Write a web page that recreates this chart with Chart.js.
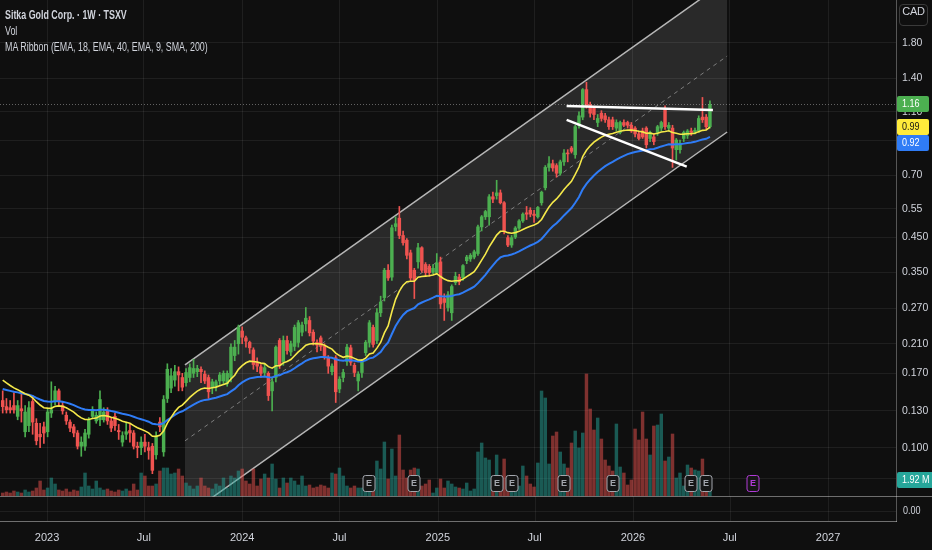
<!DOCTYPE html>
<html>
<head>
<meta charset="utf-8">
<script src="https://cdn.jsdelivr.net/npm/chart.js@4.4.1/dist/chart.umd.min.js"></script>
<style>
  html, body { margin: 0; padding: 0; background: #0f0f0f; }
  #wrap { position: relative; width: 932px; height: 550px; overflow: hidden; }
  #legend { position: absolute; left: 5px; top: 7px; color: #d1d4dc; white-space: nowrap;
    font: 12.5px 'Liberation Sans', Arial, sans-serif; line-height: 16px;
    transform: scaleX(0.71); transform-origin: 0 0; }
  #legend .t { font-weight: bold; }
  #cur { position: absolute; left: 899px; top: 4px; width: 29px; height: 22px; box-sizing: border-box;
    border: 1px solid #3a3a3a; border-radius: 4px; color: #d1d4dc; text-align: center; line-height: 20px;
    font: 11px 'Liberation Sans', Arial, sans-serif; letter-spacing: -0.3px; }
</style>
</head>
<body>
<div id="wrap">
  <canvas id="myChart"></canvas>
  <div id="legend">
    <div class="t">Sitka Gold Corp. · 1W · TSXV</div>
    <div>Vol</div>
    <div>MA Ribbon (EMA, 18, EMA, 40, EMA, 9, SMA, 200)</div>
  </div>
  <div id="cur">CAD</div>
</div>
<script>
// weekly bars, index 0 = week of 2022-10-10
const firstWeek = '2022-10-10';
const tickDates = ['2023-01-01', '2023-07-01', '2024-01-01', '2024-07-01', '2025-01-01',
                   '2025-07-01', '2026-01-01', '2026-07-01', '2027-01-01'];
const tickLabels = ['2023', 'Jul', '2024', 'Jul', '2025', 'Jul', '2026', 'Jul', '2027'];
const priceTicks = [0.08, 0.1, 0.13, 0.17, 0.21, 0.27, 0.35, 0.45, 0.55, 0.7, 0.9, 1.1, 1.4, 1.8];
const priceTickLabels = ['0.080', '0.100', '0.130', '0.170', '0.210', '0.270', '0.350', '0.450',
                         '0.55', '0.70', '0.90', '1.10', '1.40', '1.80'];

const open = [
  .140, .134, .133, .135, .125, .132, .112, .117, .139, .119, .110, .116, .112, .128, .139, .150, .135, .126, .120, .116,
  .111, .101, .101, .110, .125, .121, .122, .122, .130, .121, .125, .113, .104, .110, .113, .111, .101, .100, .104, .100,
  .101, .095, .120, .097, .142, .153, .162, .172, .165, .159, .165, .170, .172, .175, .169, .165, .154, .155, .161, .161,
  .158, .165, .193, .210, .230, .219, .212, .201, .184, .178, .171, .170, .150, .165, .215, .185, .215, .198, .206, .212,
  .228, .242, .248, .228, .212, .219, .206, .190, .172, .190, .152, .165, .185, .204, .180, .161, .171, .197, .212, .236,
  .215, .262, .292, .355, .338, .485, .515, .455, .440, .402, .355, .377, .417, .370, .365, .350, .349, .377, .290, .272,
  .262, .325, .338, .336, .380, .385, .390, .400, .484, .520, .520, .600, .605, .617, .575, .448, .425, .450, .480, .505,
  .535, .545, .530, .520, .575, .640, .740, .760, .750, .710, .770, .820, .850, .810, 1.00, 1.06, 1.29, 1.16, 1.13, 1.02,
  1.09, 1.07, 1.04, 1.04, .980, .950, 1.02, 1.02, 1.00, .980, .940, .960, .980, .910, .920, .950, .980, 1.13, .980, .980,
  .840, .840, .910, .930, .960, .950, .960, 1.06, 1.06, .990
];
const high = [
  .150, .142, .140, .148, .140, .148, .135, .139, .145, .123, .119, .120, .132, .160, .155, .152, .139, .129, .122, .118,
  .113, .108, .114, .124, .134, .129, .150, .133, .133, .124, .128, .118, .112, .120, .118, .113, .104, .108, .110, .104,
  .103, .112, .124, .145, .182, .176, .180, .178, .170, .176, .182, .188, .180, .178, .173, .168, .163, .162, .171, .173,
  .173, .210, .215, .240, .237, .222, .214, .204, .190, .181, .182, .172, .165, .207, .218, .222, .222, .214, .240, .248,
  .245, .272, .255, .232, .216, .222, .210, .193, .182, .193, .166, .175, .209, .208, .183, .172, .188, .215, .248, .240,
  .270, .295, .360, .370, .490, .520, .560, .470, .445, .410, .360, .430, .420, .375, .370, .370, .400, .390, .300, .305,
  .320, .350, .345, .370, .395, .400, .410, .490, .525, .545, .610, .620, .675, .630, .580, .455, .455, .485, .510, .535,
  .560, .555, .545, .560, .625, .750, .800, .780, .760, .780, .840, .840, .860, 1.00, 1.10, 1.30, 1.36, 1.18, 1.14, 1.08,
  1.11, 1.09, 1.06, 1.06, 1.04, 1.03, 1.04, 1.03, 1.02, .990, .960, .980, .990, .960, .940, 1.00, 1.03, 1.15, 1.02, 1.00,
  .910, .900, .960, .970, .980, .980, 1.07, 1.22, 1.08, 1.19
];
const low = [
  .128, .128, .128, .128, .122, .120, .108, .112, .110, .102, .100, .103, .108, .124, .136, .135, .127, .118, .112, .108,
  .099, .094, .098, .107, .123, .119, .117, .120, .118, .112, .113, .106, .101, .106, .104, .099, .093, .095, .097, .092,
  .083, .092, .112, .094, .138, .148, .155, .150, .150, .155, .160, .165, .166, .159, .158, .142, .147, .150, .157, .158,
  .155, .160, .186, .195, .210, .205, .196, .175, .172, .165, .166, .140, .130, .160, .176, .180, .195, .193, .200, .205,
  .222, .230, .222, .208, .198, .200, .188, .170, .168, .138, .148, .160, .180, .180, .166, .150, .165, .193, .205, .205,
  .210, .255, .285, .330, .330, .470, .445, .425, .385, .330, .290, .360, .350, .340, .340, .345, .345, .270, .248, .265,
  .248, .320, .320, .330, .372, .378, .385, .395, .470, .510, .490, .575, .590, .570, .460, .420, .418, .445, .475, .500,
  .510, .520, .500, .515, .565, .630, .720, .720, .690, .700, .750, .770, .820, .790, .980, 1.04, 1.13, 1.06, 1.04, .990,
  1.03, 1.02, .970, .970, .960, .940, .990, .980, .950, .920, .900, .910, .850, .890, .870, .930, .960, .970, .960, .740,
  .780, .820, .890, .910, .930, .940, .950, 1.02, .970, .980
];
const close = [
  .134, .131, .131, .131, .135, .130, .129, .133, .120, .105, .108, .111, .129, .131, .150, .139, .130, .121, .115, .111,
  .101, .104, .111, .122, .131, .126, .141, .129, .121, .115, .117, .112, .109, .112, .111, .101, .100, .104, .101, .098,
  .085, .108, .116, .141, .175, .167, .172, .168, .154, .171, .177, .176, .176, .172, .161, .149, .160, .160, .168, .170,
  .170, .205, .205, .236, .220, .214, .204, .181, .179, .170, .177, .145, .160, .205, .180, .215, .200, .210, .236, .244,
  .240, .252, .227, .214, .208, .206, .193, .179, .179, .149, .163, .171, .205, .184, .171, .169, .185, .212, .244, .209,
  .262, .283, .355, .336, .481, .495, .455, .432, .395, .336, .330, .417, .355, .349, .349, .360, .374, .279, .282, .298,
  .316, .340, .327, .367, .390, .395, .405, .484, .520, .540, .600, .590, .617, .575, .470, .425, .448, .480, .505, .530,
  .530, .530, .525, .556, .620, .740, .760, .737, .710, .770, .820, .815, .830, .990, 1.07, 1.29, 1.15, 1.09, 1.08, 1.05,
  1.05, 1.04, .990, .990, 1.02, 1.02, 1.00, 1.00, .960, .940, .910, .920, .870, .950, .890, .990, 1.02, .990, 1.00, .850,
  .900, .880, .950, .960, .950, .965, 1.05, 1.04, .990, 1.16
];
// volume in millions of shares
const volume = [
  .36, .48, .36, .60, .48, .36, .72, .48, .60, .96, 1.80, .72, .96, 2.16, 1.44, .72, .60, .84, .48, .72,
  .60, 1.08, 2.76, 1.20, .84, 1.80, .96, .72, .84, .60, .48, .72, .60, .84, .60, 1.44, .72, 2.76, 2.40, 1.20,
  1.20, 1.44, 3.00, 3.36, 3.36, 2.64, 2.76, 3.24, 2.40, 1.56, 1.20, .84, 1.20, 2.16, 1.20, .96, .84, 1.44, 1.20, 2.16,
  .96, 2.40, 2.16, 3.00, 3.24, 1.80, 1.44, 3.24, 1.20, 2.04, 2.64, 2.16, 3.84, 2.04, .96, 2.16, 1.56, 2.16, 1.80, 1.32,
  2.40, 1.20, 1.32, .96, 1.08, 1.32, 1.20, .96, 2.76, 2.64, 3.36, 2.40, 1.20, .96, 1.20, .96, .96, .96, 1.44, 1.44,
  4.20, 3.24, 6.48, 2.04, 5.64, 2.40, 7.32, 3.12, 2.16, 3.12, 3.36, 3.24, 1.20, 1.44, 1.92, .36, .96, 2.04, .96, 1.80,
  1.44, 1.08, .96, .84, 1.56, .60, .84, 5.28, 6.36, 4.56, 4.32, 2.16, 4.92, 2.16, 4.44, 2.16, .96, 1.80, 1.20, 3.60,
  2.40, 1.44, 1.08, 3.96, 12.60, 11.76, 3.84, 7.20, 7.68, 5.28, 3.84, 3.36, 6.36, 7.80, 5.76, 7.56, 14.64, 10.44, 7.92, 9.36,
  6.84, 4.32, 3.60, 3.00, 8.64, 3.48, 2.76, 1.32, 1.92, 8.04, 6.72, 10.08, 6.84, 4.92, 8.40, 8.52, 9.84, 4.20, 4.68, 7.44,
  2.16, 2.76, 1.20, 3.72, 3.36, 3.12, 3.00, 4.44, 1.92, 1.92
];

// MA ribbon values at the first visible bar
const ema18Start = 0.162;
const ema40Start = 0.152;

// drawings (week index, price)
const channelUpper = [{ x: 48.7, y: 0.1805 }, { x: 193.6, y: 2.82 }];
const channelLower = [{ x: 48.7, y: 0.061 }, { x: 193.6, y: 0.953 }];
const resistance = [{ x: 150.7, y: 1.148 }, { x: 189.8, y: 1.115 }];
const support = [{ x: 150.7, y: 1.039 }, { x: 182.8, y: 0.744 }];
const earningsWeeks = [98, 110, 132, 136, 150, 163, 184, 188];
const nextEarningsWeek = 200.5;

const FONT = "'Liberation Sans', Arial, sans-serif";
const BG = '#0f0f0f';
const UP = '#4caf50', DOWN = '#ef5350';

function weekPos(d) {
    return (Date.parse(d) - Date.parse(firstWeek)) / (7 * 864e5);
}

function ema(values, n, start) {
    const k = 2 / (n + 1);
    const out = [];
    let e = start;
    values.forEach((v, i) => {
        e = i === 0 ? start : v * k + e * (1 - k);
        out.push({ x: i, y: e });
    });
    return out;
}

const ema18 = ema(close, 18, ema18Start);
const ema40 = ema(close, 40, ema40Start);
const channelMid = channelUpper.map((p, i) => ({ x: p.x, y: Math.sqrt(p.y * channelLower[i].y) }));

const isUp = close.map((c, i) => c >= open[i]);
const candleColors = isUp.map(u => u ? UP : DOWN);
const volColors = isUp.map(u => u ? 'rgba(38,166,154,0.5)' : 'rgba(239,83,80,0.5)');

function roundBox(ctx, x, y, w, h, r) {
    ctx.beginPath();
    ctx.moveTo(x + r, y);
    ctx.arcTo(x + w, y, x + w, y + h, r);
    ctx.arcTo(x + w, y + h, x, y + h, r);
    ctx.arcTo(x, y + h, x, y, r);
    ctx.arcTo(x, y, x + w, y, r);
    ctx.closePath();
}

// narrow text like the terminal's axis font
function narrowText(ctx, text, x, y) {
    ctx.save();
    ctx.translate(x, y);
    ctx.scale(0.82, 1);
    ctx.fillText(text, 0, 0);
    ctx.restore();
}

const overlay = {
    id: 'overlay',
    afterDatasetsDraw(chart) {
        const { ctx, chartArea: a, scales } = chart;
        const x = scales.x, y = scales.y, v = scales.v;
        const paneTop = Math.round(v.getPixelForValue(0)) + 0.5;
        ctx.save();

        // last price dotted line
        const py = Math.round(y.getPixelForValue(close[close.length - 1])) + 0.5;
        ctx.setLineDash([1, 2]);
        ctx.strokeStyle = 'rgba(200,200,200,0.45)';
        ctx.lineWidth = 1;
        ctx.beginPath(); ctx.moveTo(a.left, py); ctx.lineTo(a.right, py); ctx.stroke();
        ctx.setLineDash([]);

        // lower empty pane
        ctx.fillStyle = BG;
        ctx.fillRect(a.left, paneTop, a.right - a.left, a.bottom - paneTop);
        ctx.strokeStyle = 'rgba(255,255,255,0.07)';
        tickDates.forEach(d => {
            const px = Math.round(x.getPixelForValue(weekPos(d))) + 0.5;
            ctx.beginPath(); ctx.moveTo(px, paneTop); ctx.lineTo(px, a.bottom); ctx.stroke();
        });
        ctx.beginPath(); ctx.moveTo(a.left, paneTop + 15); ctx.lineTo(a.right, paneTop + 15); ctx.stroke();
        ctx.strokeStyle = 'rgba(255,255,255,0.4)';
        ctx.beginPath(); ctx.moveTo(a.left, paneTop); ctx.lineTo(932, paneTop); ctx.stroke();

        // earnings markers
        ctx.font = 'bold 9px ' + FONT;
        ctx.textAlign = 'center';
        ctx.textBaseline = 'middle';
        const drawE = (w, color) => {
            const cx = Math.round(x.getPixelForValue(w));
            roundBox(ctx, cx - 6, paneTop - 21, 12, 16, 2.5);
            ctx.fillStyle = '#161616';
            ctx.fill();
            ctx.strokeStyle = color;
            ctx.lineWidth = 1;
            ctx.stroke();
            ctx.fillStyle = color;
            ctx.fillText('E', cx, paneTop - 12.5);
        };
        earningsWeeks.forEach(w => drawE(w, '#a3a6ad'));
        drawE(nextEarningsWeek, '#b03ad6');
        ctx.restore();
    },
    afterDraw(chart) {
        const { ctx, chartArea: a, scales } = chart;
        const y = scales.y, v = scales.v;
        const paneTop = v.getPixelForValue(0);
        const last = close.length - 1;
        ctx.save();
        ctx.font = '11px ' + FONT;
        ctx.textBaseline = 'middle';
        ctx.textAlign = 'left';
        ctx.fillStyle = '#d1d4dc';
        narrowText(ctx, '0.00', a.right + 7, paneTop + 15);

        const tags = [
            { y: y.getPixelForValue(close[last]), text: close[last].toFixed(2), bg: UP, fg: '#fff' },
            { y: y.getPixelForValue(ema18[last].y), text: ema18[last].y.toFixed(2), bg: '#ffeb3b', fg: '#131313' },
            { y: y.getPixelForValue(ema40[last].y), text: ema40[last].y.toFixed(2), bg: '#2f7cf6', fg: '#fff' },
            { y: v.getPixelForValue(volume[last]), text: volume[last].toFixed(2) + ' M', bg: '#26a69a', fg: '#fff' }
        ].sort((p, q) => p.y - q.y);
        let prev = -100;
        tags.forEach(t => {
            if (t.y < prev + 16) t.y = prev + 16;
            prev = t.y;
            const w = ctx.measureText(t.text).width * 0.82 + 9;
            roundBox(ctx, a.right + 1, Math.round(t.y) - 8, Math.max(w, 32), 16, 2);
            ctx.fillStyle = t.bg;
            ctx.fill();
            ctx.fillStyle = t.fg;
            narrowText(ctx, t.text, a.right + 6, Math.round(t.y));
        });
        ctx.restore();
    }
};

const ctx = document.getElementById('myChart').getContext('2d');
const lineBase = { type: 'line', pointRadius: 0, yAxisID: 'y', tension: 0 };

window.myChart = new Chart(ctx, {
    type: 'bar',
    data: {
        datasets: [
            { ...lineBase, data: channelUpper, borderColor: 'rgba(210,210,210,0.85)', borderWidth: 1.5,
              fill: '+1', backgroundColor: 'rgba(255,255,255,0.11)', order: 20 },
            { ...lineBase, data: channelLower, borderColor: 'rgba(210,210,210,0.85)', borderWidth: 1.5,
              fill: false, order: 19 },
            { ...lineBase, data: channelMid, borderColor: 'rgba(210,210,210,0.5)', borderWidth: 1,
              borderDash: [4, 4], fill: false, order: 18 },
            { type: 'bar', yAxisID: 'v', data: volume.map((val, i) => ({ x: i, y: val })),
              backgroundColor: volColors, barThickness: 2.8, grouped: false, order: 15 },
            { type: 'bar', yAxisID: 'y', data: low.map((l, i) => ({ x: i, y: [l, high[i]] })),
              backgroundColor: candleColors, barThickness: 1, grouped: false, order: 6 },
            { type: 'bar', yAxisID: 'y', data: open.map((o, i) => ({ x: i, y: [o, close[i]] })),
              backgroundColor: candleColors, barThickness: 2.8, minBarLength: 1, grouped: false, order: 5 },
            { ...lineBase, data: ema40, borderColor: '#2f7cf6', borderWidth: 2, fill: false, order: 4 },
            { ...lineBase, data: ema18, borderColor: '#f5e94a', borderWidth: 1.6, fill: false, order: 3 },
            { ...lineBase, data: resistance, borderColor: '#ffffff', borderWidth: 2.5, fill: false, order: 1 },
            { ...lineBase, data: support, borderColor: '#ffffff', borderWidth: 2.5, fill: false, order: 1 }
        ]
    },
    options: {
        responsive: true,
        maintainAspectRatio: false,
        animation: false,
        events: [],
        layout: { padding: 0 },
        plugins: { legend: { display: false }, tooltip: { enabled: false } },
        scales: {
            x: {
                type: 'linear',
                offset: false,
                min: -0.72,
                max: 238.72,
                afterBuildTicks: s => { s.ticks = tickDates.map(d => ({ value: weekPos(d) })); },
                afterFit: s => { s.height = 29; s.paddingLeft = 0; s.paddingRight = 0; },
                ticks: {
                    autoSkip: false, maxRotation: 0, padding: 10, color: '#d1d4dc',
                    font: { family: FONT, size: 11 },
                    callback: (val, i) => tickLabels[i]
                },
                grid: { color: 'rgba(255,255,255,0.07)', drawTicks: false, offset: false },
                border: { color: 'rgba(255,255,255,0.4)' }
            },
            y: {
                type: 'logarithmic',
                position: 'right',
                min: 0.0592,
                max: 2.447,
                afterBuildTicks: s => { s.ticks = priceTicks.map(p => ({ value: p })); },
                afterFit: s => { s.width = 36; s.paddingTop = 0; s.paddingBottom = 0; },
                ticks: {
                    autoSkip: false, padding: 6, color: '#d1d4dc',
                    font: { family: FONT, size: 10.5 },
                    callback: val => priceTickLabels[priceTicks.indexOf(val)]
                },
                grid: { color: 'rgba(255,255,255,0.07)', drawTicks: false },
                border: { color: 'rgba(255,255,255,0.3)' }
            },
            v: {
                type: 'linear',
                display: false,
                min: -3.0,
                max: 59.52
            }
        }
    },
    plugins: [overlay]
});
</script>
</body>
</html>
